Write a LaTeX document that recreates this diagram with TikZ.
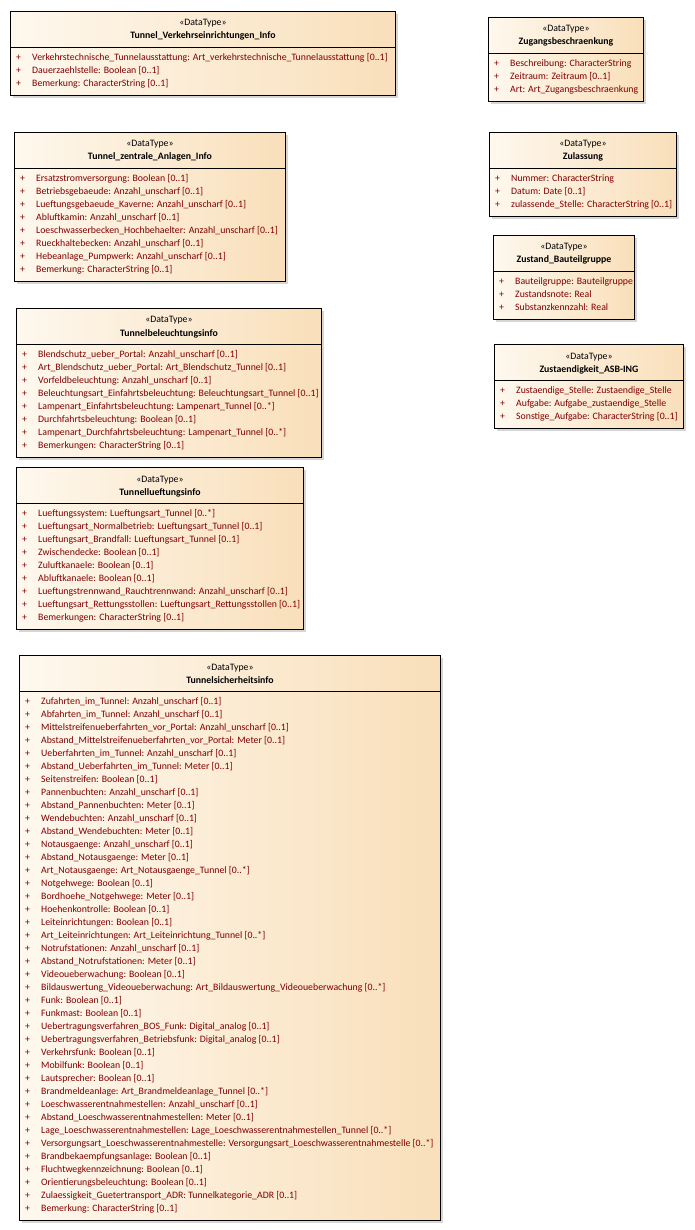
\documentclass[tikz,border=0pt]{standalone}
\usepackage{fontspec}
\setmainfont{Carlito}
\usepackage{xcolor}
\usetikzlibrary{positioning,shadows,calc}

\definecolor{dtleft}{HTML}{FEF8EE}
\definecolor{dtright}{HTML}{F9DFBA}
\definecolor{dtred}{HTML}{800000}
\newcommand{\attr}[1]{\strut\makebox[16pt][l]{+}#1}

\begin{document}
\begin{tikzpicture}[x=1pt, y=-1pt,
  dtbox/.style={draw, line width=0.9pt, anchor=north west, inner sep=0, left color=dtleft, right color=dtright,
    drop shadow={shadow xshift=3pt, shadow yshift=-3pt, fill=black!16, opacity=1}},
  sepline/.style={line width=0.9pt},
  stereo/.style={anchor=base, inner sep=0, font=\fontsize{9.8}{13}\selectfont},
  tname/.style={anchor=base, inner sep=0, font=\fontsize{9.8}{13}\selectfont\bfseries},
  attrs/.style={anchor=north west, inner sep=0, align=left, text=dtred, font=\fontsize{9.8}{13}\selectfont}
]
\useasboundingbox (0,0) rectangle (694,1230);

% left column
\node[dtbox, minimum width=385, minimum height=84] (verk) at (10,11) {};
\draw[sepline] ([yshift=-36pt]verk.north west) -- ([yshift=-36pt]verk.north east);
\node[stereo] (verk-s) at ([yshift=-15pt]verk.north) {«DataType»};
\node[tname] (verk-n) at ([yshift=-28pt]verk.north) {Tunnel\_Verkehrseinrichtungen\_Info};
\node[attrs] (verk-a) at ([xshift=6pt, yshift=-39.9pt]verk.north west) {%
  \attr{Verkehrstechnische\_Tunnelausstattung: Art\_verkehrstechnische\_Tunnelausstattung [0..1]}\\
  \attr{Dauerzaehlstelle: Boolean [0..1]}\\
  \attr{Bemerkung: CharacterString [0..1]}};

\node[dtbox, minimum width=271, minimum height=149] (zent) at (14,132) {};
\draw[sepline] ([yshift=-36pt]zent.north west) -- ([yshift=-36pt]zent.north east);
\node[stereo] (zent-s) at ([yshift=-15pt]zent.north) {«DataType»};
\node[tname] (zent-n) at ([yshift=-28pt]zent.north) {Tunnel\_zentrale\_Anlagen\_Info};
\node[attrs] (zent-a) at ([xshift=6pt, yshift=-39.9pt]zent.north west) {%
  \attr{Ersatzstromversorgung: Boolean [0..1]}\\
  \attr{Betriebsgebaeude: Anzahl\_unscharf [0..1]}\\
  \attr{Lueftungsgebaeude\_Kaverne: Anzahl\_unscharf [0..1]}\\
  \attr{Abluftkamin: Anzahl\_unscharf [0..1]}\\
  \attr{Loeschwasserbecken\_Hochbehaelter: Anzahl\_unscharf [0..1]}\\
  \attr{Rueckhaltebecken: Anzahl\_unscharf [0..1]}\\
  \attr{Hebeanlage\_Pumpwerk: Anzahl\_unscharf [0..1]}\\
  \attr{Bemerkung: CharacterString [0..1]}};

\node[dtbox, minimum width=305, minimum height=149] (bel) at (16,308) {};
\draw[sepline] ([yshift=-36pt]bel.north west) -- ([yshift=-36pt]bel.north east);
\node[stereo] (bel-s) at ([yshift=-15pt]bel.north) {«DataType»};
\node[tname] (bel-n) at ([yshift=-28pt]bel.north) {Tunnelbeleuchtungsinfo};
\node[attrs] (bel-a) at ([xshift=6pt, yshift=-39.9pt]bel.north west) {%
  \attr{Blendschutz\_ueber\_Portal: Anzahl\_unscharf [0..1]}\\
  \attr{Art\_Blendschutz\_ueber\_Portal: Art\_Blendschutz\_Tunnel [0..1]}\\
  \attr{Vorfeldbeleuchtung: Anzahl\_unscharf [0..1]}\\
  \attr{Beleuchtungsart\_Einfahrtsbeleuchtung: Beleuchtungsart\_Tunnel [0..1]}\\
  \attr{Lampenart\_Einfahrtsbeleuchtung: Lampenart\_Tunnel [0..*]}\\
  \attr{Durchfahrtsbeleuchtung: Boolean [0..1]}\\
  \attr{Lampenart\_Durchfahrtsbeleuchtung: Lampenart\_Tunnel [0..*]}\\
  \attr{Bemerkungen: CharacterString [0..1]}};

\node[dtbox, minimum width=287, minimum height=162] (lue) at (16,467) {};
\draw[sepline] ([yshift=-36pt]lue.north west) -- ([yshift=-36pt]lue.north east);
\node[stereo] (lue-s) at ([yshift=-15pt]lue.north) {«DataType»};
\node[tname] (lue-n) at ([yshift=-28pt]lue.north) {Tunnellueftungsinfo};
\node[attrs] (lue-a) at ([xshift=6pt, yshift=-39.9pt]lue.north west) {%
  \attr{Lueftungssystem: Lueftungsart\_Tunnel [0..*]}\\
  \attr{Lueftungsart\_Normalbetrieb: Lueftungsart\_Tunnel [0..1]}\\
  \attr{Lueftungsart\_Brandfall: Lueftungsart\_Tunnel [0..1]}\\
  \attr{Zwischendecke: Boolean [0..1]}\\
  \attr{Zuluftkanaele: Boolean [0..1]}\\
  \attr{Abluftkanaele: Boolean [0..1]}\\
  \attr{Lueftungstrennwand\_Rauchtrennwand: Anzahl\_unscharf [0..1]}\\
  \attr{Lueftungsart\_Rettungsstollen: Lueftungsart\_Rettungsstollen [0..1]}\\
  \attr{Bemerkungen: CharacterString [0..1]}};

\node[dtbox, minimum width=421, minimum height=565] (sich) at (19,655) {};
\draw[sepline] ([yshift=-36pt]sich.north west) -- ([yshift=-36pt]sich.north east);
\node[stereo] (sich-s) at ([yshift=-15pt]sich.north) {«DataType»};
\node[tname] (sich-n) at ([yshift=-28pt]sich.north) {Tunnelsicherheitsinfo};
\node[attrs] (sich-a) at ([xshift=6pt, yshift=-39.9pt]sich.north west) {%
  \attr{Zufahrten\_im\_Tunnel: Anzahl\_unscharf [0..1]}\\
  \attr{Abfahrten\_im\_Tunnel: Anzahl\_unscharf [0..1]}\\
  \attr{Mittelstreifenueberfahrten\_vor\_Portal: Anzahl\_unscharf [0..1]}\\
  \attr{Abstand\_Mittelstreifenueberfahrten\_vor\_Portal: Meter [0..1]}\\
  \attr{Ueberfahrten\_im\_Tunnel: Anzahl\_unscharf [0..1]}\\
  \attr{Abstand\_Ueberfahrten\_im\_Tunnel: Meter [0..1]}\\
  \attr{Seitenstreifen: Boolean [0..1]}\\
  \attr{Pannenbuchten: Anzahl\_unscharf [0..1]}\\
  \attr{Abstand\_Pannenbuchten: Meter [0..1]}\\
  \attr{Wendebuchten: Anzahl\_unscharf [0..1]}\\
  \attr{Abstand\_Wendebuchten: Meter [0..1]}\\
  \attr{Notausgaenge: Anzahl\_unscharf [0..1]}\\
  \attr{Abstand\_Notausgaenge: Meter [0..1]}\\
  \attr{Art\_Notausgaenge: Art\_Notausgaenge\_Tunnel [0..*]}\\
  \attr{Notgehwege: Boolean [0..1]}\\
  \attr{Bordhoehe\_Notgehwege: Meter [0..1]}\\
  \attr{Hoehenkontrolle: Boolean [0..1]}\\
  \attr{Leiteinrichtungen: Boolean [0..1]}\\
  \attr{Art\_Leiteinrichtungen: Art\_Leiteinrichtung\_Tunnel [0..*]}\\
  \attr{Notrufstationen: Anzahl\_unscharf [0..1]}\\
  \attr{Abstand\_Notrufstationen: Meter [0..1]}\\
  \attr{Videoueberwachung: Boolean [0..1]}\\
  \attr{Bildauswertung\_Videoueberwachung: Art\_Bildauswertung\_Videoueberwachung [0..*]}\\
  \attr{Funk: Boolean [0..1]}\\
  \attr{Funkmast: Boolean [0..1]}\\
  \attr{Uebertragungsverfahren\_BOS\_Funk: Digital\_analog [0..1]}\\
  \attr{Uebertragungsverfahren\_Betriebsfunk: Digital\_analog [0..1]}\\
  \attr{Verkehrsfunk: Boolean [0..1]}\\
  \attr{Mobilfunk: Boolean [0..1]}\\
  \attr{Lautsprecher: Boolean [0..1]}\\
  \attr{Brandmeldeanlage: Art\_Brandmeldeanlage\_Tunnel [0..*]}\\
  \attr{Loeschwasserentnahmestellen: Anzahl\_unscharf [0..1]}\\
  \attr{Abstand\_Loeschwasserentnahmestellen: Meter [0..1]}\\
  \attr{Lage\_Loeschwasserentnahmestellen: Lage\_Loeschwasserentnahmestellen\_Tunnel [0..*]}\\
  \attr{Versorgungsart\_Loeschwasserentnahmestelle: Versorgungsart\_Loeschwasserentnahmestelle [0..*]}\\
  \attr{Brandbekaempfungsanlage: Boolean [0..1]}\\
  \attr{Fluchtwegkennzeichnung: Boolean [0..1]}\\
  \attr{Orientierungsbeleuchtung: Boolean [0..1]}\\
  \attr{Zulaessigkeit\_Guetertransport\_ADR: Tunnelkategorie\_ADR [0..1]}\\
  \attr{Bemerkung: CharacterString [0..1]}};

% right column
\node[dtbox, minimum width=155, minimum height=84] (zug) at (488,17) {};
\draw[sepline] ([yshift=-36pt]zug.north west) -- ([yshift=-36pt]zug.north east);
\node[stereo] (zug-s) at ([yshift=-15pt]zug.north) {«DataType»};
\node[tname] (zug-n) at ([yshift=-28pt]zug.north) {Zugangsbeschraenkung};
\node[attrs] (zug-a) at ([xshift=6pt, yshift=-39.9pt]zug.north west) {%
  \attr{Beschreibung: CharacterString}\\
  \attr{Zeitraum: Zeitraum [0..1]}\\
  \attr{Art: Art\_Zugangsbeschraenkung}};

\node[dtbox, minimum width=187, minimum height=84] (zul) at (489,132) {};
\draw[sepline] ([yshift=-36pt]zul.north west) -- ([yshift=-36pt]zul.north east);
\node[stereo] (zul-s) at ([yshift=-15pt]zul.north) {«DataType»};
\node[tname] (zul-n) at ([yshift=-28pt]zul.north) {Zulassung};
\node[attrs] (zul-a) at ([xshift=6pt, yshift=-39.9pt]zul.north west) {%
  \attr{Nummer: CharacterString}\\
  \attr{Datum: Date [0..1]}\\
  \attr{zulassende\_Stelle: CharacterString [0..1]}};

\node[dtbox, minimum width=141, minimum height=84] (zust) at (493,235) {};
\draw[sepline] ([yshift=-36pt]zust.north west) -- ([yshift=-36pt]zust.north east);
\node[stereo] (zust-s) at ([yshift=-15pt]zust.north) {«DataType»};
\node[tname] (zust-n) at ([yshift=-28pt]zust.north) {Zustand\_Bauteilgruppe};
\node[attrs] (zust-a) at ([xshift=6pt, yshift=-39.9pt]zust.north west) {%
  \attr{Bauteilgruppe: Bauteilgruppe}\\
  \attr{Zustandsnote: Real}\\
  \attr{Substanzkennzahl: Real}};

\node[dtbox, minimum width=189, minimum height=84] (asb) at (494,344) {};
\draw[sepline] ([yshift=-36pt]asb.north west) -- ([yshift=-36pt]asb.north east);
\node[stereo] (asb-s) at ([yshift=-15pt]asb.north) {«DataType»};
\node[tname] (asb-n) at ([yshift=-28pt]asb.north) {Zustaendigkeit\_ASB-ING};
\node[attrs] (asb-a) at ([xshift=6pt, yshift=-39.9pt]asb.north west) {%
  \attr{Zustaendige\_Stelle: Zustaendige\_Stelle}\\
  \attr{Aufgabe: Aufgabe\_zustaendige\_Stelle}\\
  \attr{Sonstige\_Aufgabe: CharacterString [0..1]}};

\end{tikzpicture}
\end{document}
